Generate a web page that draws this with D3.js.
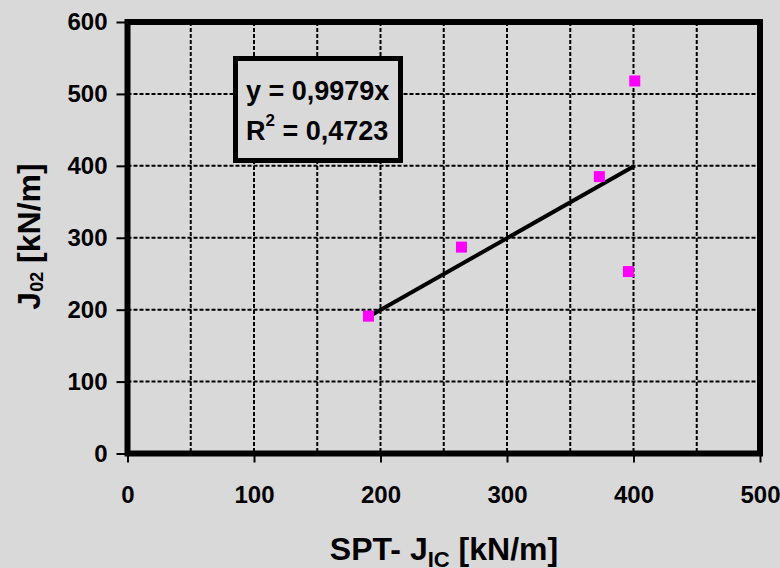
<!DOCTYPE html>
<html>
<head>
<meta charset="utf-8">
<script src="https://cdn.jsdelivr.net/npm/d3@7"></script>
<style>
  html, body { margin: 0; padding: 0; background: #d9d9d9; }
  svg { display: block; }
  text { font-family: "Liberation Sans", Arial, sans-serif; font-weight: bold; fill: #000; }
</style>
</head>
<body>
<svg id="chart" width="780" height="568"></svg>
<script>
// SPT fracture toughness vs J02, with a linear trend forced through the origin
const sptJic = [190.5, 264, 373, 396, 401];
const j02 = [191, 287, 385, 253, 518];
const xTicks = [0, 100, 200, 300, 400, 500];
const yTicks = [0, 100, 200, 300, 400, 500, 600];
const xGrid = [50, 100, 150, 200, 250, 300, 350, 400, 450];
const yGrid = [100, 200, 300, 400, 500];
const slope = 0.9979;
const r2 = "0,4723";

const svg = d3.select("#chart");
svg.append("rect").attr("width", 780).attr("height", 568).attr("fill", "#d9d9d9");

const x = d3.scaleLinear().domain([0, 500]).range([127.5, 760]);
const y = d3.scaleLinear().domain([0, 600]).range([453.5, 22]);

// dashed grid
const grid = svg.append("g").attr("stroke", "#000").attr("stroke-width", 2).attr("stroke-dasharray", "4,2");
grid.selectAll("line.v").data(xGrid).join("line")
  .attr("x1", d => x(d)).attr("x2", d => x(d))
  .attr("y1", y(600)).attr("y2", y(0));
grid.selectAll("line.h").data(yGrid).join("line")
  .attr("x1", x(0)).attr("x2", x(500))
  .attr("y1", d => y(d)).attr("y2", d => y(d));

// axes
const xAxis = svg.append("g").attr("transform", `translate(0,${y(0)})`)
  .call(d3.axisBottom(x).tickValues(xTicks).tickSize(9).tickPadding(23).tickFormat(d3.format("d")));
const yAxis = svg.append("g").attr("transform", `translate(${x(0)},0)`)
  .call(d3.axisLeft(y).tickValues(yTicks).tickSize(11).tickPadding(9).tickFormat(d3.format("d")));
[xAxis, yAxis].forEach(g => {
  g.select(".domain").remove();
  g.selectAll(".tick line").attr("stroke", "#000").attr("stroke-width", 2);
  g.selectAll(".tick text").attr("font-size", 24).attr("font-family", "Liberation Sans, Arial, sans-serif")
    .attr("font-weight", "bold").attr("fill", "#000");
});

// plot frame
svg.append("rect")
  .attr("x", x(0)).attr("y", y(600))
  .attr("width", x(500) - x(0)).attr("height", y(0) - y(600))
  .attr("fill", "none").attr("stroke", "#000").attr("stroke-width", 6);

// trend line
const xExt = d3.extent(sptJic);
svg.append("line")
  .attr("x1", x(xExt[0])).attr("y1", y(slope * xExt[0]))
  .attr("x2", x(xExt[1])).attr("y2", y(slope * xExt[1]))
  .attr("stroke", "#000").attr("stroke-width", 4);

// markers
const pts = sptJic.map((v, i) => ({ x: v, y: j02[i] }));
svg.selectAll("rect.pt").data(pts).join("rect")
  .attr("class", "pt")
  .attr("x", d => x(d.x) - 5.5).attr("y", d => y(d.y) - 5.5)
  .attr("width", 11).attr("height", 11)
  .attr("fill", "#ff00ff");

// equation box
svg.append("rect")
  .attr("x", 235.5).attr("y", 58.5).attr("width", 165).attr("height", 102)
  .attr("fill", "#d9d9d9").attr("stroke", "#000").attr("stroke-width", 5);
svg.append("text").attr("x", 246).attr("y", 100).attr("font-size", 27)
  .text("y = " + slope.toString().replace(".", ",") + "x");
const rt = svg.append("text").attr("x", 246).attr("y", 140).attr("font-size", 27);
rt.append("tspan").text("R");
rt.append("tspan").attr("font-size", 17).attr("dy", -14).text("2");
rt.append("tspan").attr("dy", 14).text(" = " + r2);

// axis titles
const xt = svg.append("text").attr("x", 444).attr("y", 560).attr("font-size", 32).attr("text-anchor", "middle");
xt.append("tspan").text("SPT- J");
xt.append("tspan").attr("font-size", 22).attr("dy", 7).text("IC");
xt.append("tspan").attr("dy", -7).text(" [kN/m]");

const yt = svg.append("text").attr("transform", "translate(40,236.5) rotate(-90)")
  .attr("font-size", 32).attr("text-anchor", "middle");
yt.append("tspan").text("J");
yt.append("tspan").attr("font-size", 18).attr("dy", 3).text("02");
yt.append("tspan").attr("dy", -3).text(" [kN/m]");
</script>
</body>
</html>
